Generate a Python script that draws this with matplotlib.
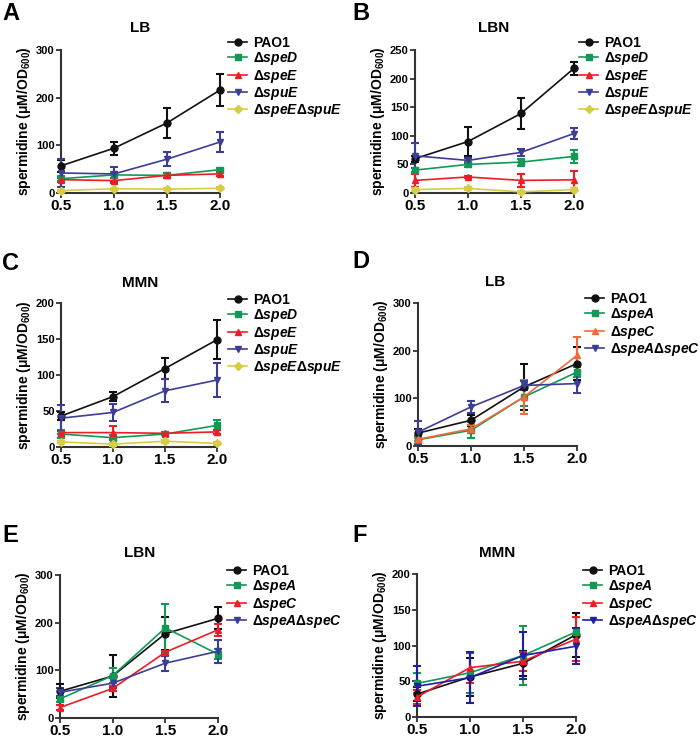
import matplotlib
matplotlib.use("Agg")
import matplotlib.pyplot as plt
import numpy as np

plt.rcParams['font.family'] = ['Liberation Sans', 'DejaVu Sans']
plt.rcParams['font.weight'] = 'bold'
plt.rcParams['mathtext.fontset'] = 'custom'
plt.rcParams['mathtext.rm'] = 'Liberation Sans:bold'
plt.rcParams['mathtext.it'] = 'Liberation Sans:bold:italic'
plt.rcParams['mathtext.bf'] = 'Liberation Sans:bold'

x = [0.5, 1.0, 1.5, 2.0]
xticklabels = ['0.5', '1.0', '1.5', '2.0']

# Panel A (LB)
A_names = ['PAO1', 'speD', 'speE', 'spuE', 'speEspuE']
A_mean = {'PAO1': [57, 94, 147, 216], 'speD': [30, 38, 37, 49], 'speE': [28, 26, 37, 40],
          'spuE': [42, 40, 71, 107], 'speEspuE': [5, 9, 8, 10]}
A_err = {'PAO1': [12, 14, 31, 33], 'speD': [5, 6, 5, 4], 'speE': [4, 5, 6, 4],
         'spuE': [30, 15, 15, 22], 'speEspuE': [2, 2, 2, 2]}
# Panel B (LBN)
B_mean = {'PAO1': [60, 90, 139, 218], 'speD': [40, 50, 54, 64], 'speE': [22, 28, 22, 23],
          'spuE': [65, 57, 71, 104], 'speEspuE': [6, 8, 2, 6]}
B_err = {'PAO1': [5, 26, 27, 11], 'speD': [3, 4, 6, 12], 'speE': [11, 2, 11, 15],
         'spuE': [22, 5, 6, 9], 'speEspuE': [2, 2, 2, 2]}
# Panel C (MMN)
C_mean = {'PAO1': [43, 70, 109, 149], 'speD': [18, 13, 18, 30], 'speE': [20, 20, 19, 21],
          'spuE': [40, 48, 78, 93], 'speEspuE': [7, 4, 8, 5]}
C_err = {'PAO1': [6, 6, 15, 27], 'speD': [5, 3, 2, 7], 'speE': [2, 9, 2, 3],
         'spuE': [18, 12, 16, 23], 'speEspuE': [2, 2, 2, 2]}

D_names = ['PAO1', 'speA', 'speC', 'speAspeC']
# Panel D (LB)
D_mean = {'PAO1': [27, 54, 124, 173], 'speA': [13, 33, 103, 155], 'speC': [14, 36, 103, 190],
          'speAspeC': [29, 82, 127, 131]}
D_err = {'PAO1': [8, 12, 48, 35], 'speA': [8, 17, 20, 10], 'speC': [3, 8, 36, 38],
         'speAspeC': [24, 12, 10, 20]}
# Panel E (LBN)
E_mean = {'PAO1': [56, 88, 177, 209], 'speA': [40, 89, 189, 134], 'speC': [22, 62, 138, 185],
          'speAspeC': [54, 73, 115, 140]}
E_err = {'PAO1': [15, 44, 35, 23], 'speA': [6, 16, 50, 10], 'speC': [6, 6, 3, 12],
         'speAspeC': [8, 10, 16, 24]}
# Panel F (MMN)
F_mean = {'PAO1': [32, 56, 75, 115], 'speA': [47, 62, 86, 119], 'speC': [28, 69, 78, 109],
          'speAspeC': [43, 55, 86, 99]}
F_err = {'PAO1': [10, 27, 18, 31], 'speA': [14, 28, 41, 6], 'speC': [10, 21, 13, 31],
         'speAspeC': [28, 36, 33, 25]}

labels = {'PAO1': 'PAO1', 'speD': r'$\Delta$$\it{speD}$', 'speE': r'$\Delta$$\it{speE}$',
          'spuE': r'$\Delta$$\it{spuE}$', 'speEspuE': r'$\Delta$$\it{speE}$$\Delta$$\it{spuE}$',
          'speA': r'$\Delta$$\it{speA}$', 'speC': r'$\Delta$$\it{speC}$',
          'speAspeC': r'$\Delta$$\it{speA}$$\Delta$$\it{speC}$'}
markers = {'PAO1': 'o', 'speD': 's', 'speE': '^', 'spuE': 'v', 'speEspuE': 'D',
           'speA': 's', 'speC': '^', 'speAspeC': 'v'}

BLACK = '#111111'; GREEN = '#119a55'; RED = '#ee1c24'; PURPLE = '#3d3d96'
YELLOW = '#d6cc45'; ORANGE = '#f26a3c'; BLUE = '#1e1ea6'

W, H = 700, 737
fig = plt.figure(figsize=(W / 100, H / 100), dpi=100)


def make_axes(l, r, t, b):
    return fig.add_axes([l / W, 1 - b / H, (r - l) / W, (b - t) / H])


panels = [
    dict(letter='A', title='LB', box=(61, 220, 50, 193), ymax=300, yt=[0, 100, 200, 300],
         names=A_names, mean=A_mean, err=A_err,
         colors={'PAO1': BLACK, 'speD': GREEN, 'speE': RED, 'spuE': PURPLE, 'speEspuE': YELLOW},
         leg=(228, 36), lpos=(2, 2), tpos=(140, 28)),
    dict(letter='B', title='LBN', box=(415, 574, 50, 193), ymax=250, yt=[0, 50, 100, 150, 200, 250],
         names=A_names, mean=B_mean, err=B_err,
         colors={'PAO1': BLACK, 'speD': GREEN, 'speE': RED, 'spuE': PURPLE, 'speEspuE': YELLOW},
         leg=(579, 36), lpos=(352, 2), tpos=(494, 28)),
    dict(letter='C', title='MMN', box=(61, 217, 303, 447), ymax=200, yt=[0, 50, 100, 150, 200],
         names=A_names, mean=C_mean, err=C_err,
         colors={'PAO1': BLACK, 'speD': GREEN, 'speE': RED, 'spuE': PURPLE, 'speEspuE': YELLOW},
         leg=(228, 293), lpos=(2, 252), tpos=(140, 283)),
    dict(letter='D', title='LB', box=(418, 577, 303, 446), ymax=300, yt=[0, 100, 200, 300],
         names=D_names, mean=D_mean, err=D_err,
         colors={'PAO1': BLACK, 'speA': GREEN, 'speC': ORANGE, 'speAspeC': PURPLE},
         leg=(585, 292), lpos=(352, 250), tpos=(495, 282)),
    dict(letter='E', title='LBN', box=(60, 218, 575, 718), ymax=300, yt=[0, 100, 200, 300],
         names=D_names, mean=E_mean, err=E_err,
         colors={'PAO1': BLACK, 'speA': GREEN, 'speC': RED, 'speAspeC': PURPLE},
         leg=(227, 564), lpos=(2, 524), tpos=(140, 553)),
    dict(letter='F', title='MMN', box=(417, 576, 574, 717), ymax=200, yt=[0, 50, 100, 150, 200],
         names=D_names, mean=F_mean, err=F_err,
         colors={'PAO1': BLACK, 'speA': GREEN, 'speC': RED, 'speAspeC': BLUE},
         leg=(583, 564), lpos=(352, 524), tpos=(497, 553)),
]

for p in panels:
    l, r, t, b = p['box']
    ax = make_axes(l, r, t, b)
    handles = []
    for n in p['names']:
        c = p['colors'][n]
        h = ax.errorbar(x, p['mean'][n], yerr=p['err'][n], color=c, marker=markers[n],
                        markersize=5 if markers[n] != 'D' else 4.2, lw=1.2, elinewidth=1.5,
                        capsize=3, capthick=1.5, clip_on=False, label=labels[n], zorder=3)
        for art in list(h.lines[1]) + list(h.lines[2]):
            art.set_clip_on(False)
        handles.append(h)
    ax.set_xlim(0.5, 2.0)
    ax.set_ylim(0, p['ymax'])
    ax.set_xticks(x)
    ax.set_xticklabels(xticklabels, fontsize=11, fontweight='bold')
    ax.set_yticks(p['yt'])
    ax.set_yticklabels([str(v) for v in p['yt']], fontsize=8, fontweight='bold')
    for s in ['top', 'right']:
        ax.spines[s].set_visible(False)
    for s in ['left', 'bottom']:
        ax.spines[s].set_linewidth(1.5)
        ax.spines[s].set_color('#333333')
    ax.tick_params(axis='both', direction='out', width=1.3, length=3.5, color='#333333', pad=1)
    ax.set_ylabel(r'spermidine ($\mathbf{\mu}$M/OD$_{\mathbf{600}}$)', fontsize=10,
                  fontweight='bold', labelpad=2.5)
    fig.text(p['tpos'][0] / W, 1 - p['tpos'][1] / H, p['title'], ha='center', va='center',
             fontsize=11, fontweight='bold')
    fig.text(p['lpos'][0] / W, 1 - p['lpos'][1] / H, p['letter'], ha='left', va='top',
             fontsize=17, fontweight='bold')
    lx, ly = p['leg']
    fig.legend(handles=[hh.lines[0] for hh in handles], labels=[labels[n] for n in p['names']],
               loc='upper left', bbox_to_anchor=(lx / W, 1 - ly / H), frameon=False,
               handlelength=1.4, handletextpad=0.4, labelspacing=0.02,
               borderpad=0, borderaxespad=0, prop={'weight': 'bold', 'size': 10})

fig.savefig('out.png', dpi=100)
